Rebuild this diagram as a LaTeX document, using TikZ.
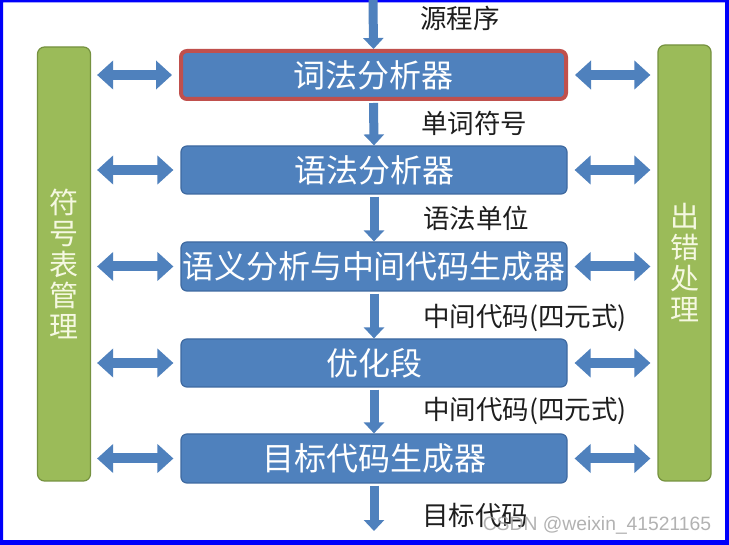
\documentclass[tikz,border=0pt]{standalone}
\usepackage{fontspec}
\setmainfont{Noto Sans CJK SC}
\newfontfamily\wmfont{Liberation Sans}
\usetikzlibrary{arrows.meta}
\definecolor{boxblue}{RGB}{79,129,189}
\definecolor{boxedge}{RGB}{62,105,160}
\definecolor{bargreen}{RGB}{155,187,89}
\definecolor{baredge}{RGB}{118,146,64}
\definecolor{redge}{RGB}{192,80,77}
\definecolor{frameblue}{RGB}{0,0,250}
\definecolor{labelink}{RGB}{30,30,30}
\definecolor{bartext}{RGB}{245,248,225}
\begin{document}
\begin{tikzpicture}[x=1pt,y=-1pt,
  stage/.style={draw=boxedge, line width=1.2pt, fill=boxblue, rounded corners=6pt,
    minimum width=386pt, minimum height=48pt, inner sep=0pt, text=white,
    font=\fontsize{32}{32}\selectfont},
  firststage/.style={stage, draw=redge, line width=4pt, minimum width=385pt, minimum height=48pt},
  sidebar/.style={draw=baredge, line width=1.2pt, fill=bargreen, rounded corners=7pt,
    minimum width=53pt, minimum height=434pt, inner sep=0pt, text=bartext, align=center,
    font=\fontsize{29}{31}\selectfont},
  flowlabel/.style={text=labelink, inner sep=0pt, font=\fontsize{26.5}{26.5}\selectfont},
  vflow/.style={draw=boxblue, line width=9pt, -{Triangle[width=20pt,length=11pt]}},
  hflow/.style={draw=boxblue, line width=10pt,
    {Triangle[width=28pt,length=16pt]}-{Triangle[width=28pt,length=16pt]}},
  watermark/.style={text=gray!75, opacity=0.8, inner sep=0pt, font=\wmfont\fontsize{19.3}{20}\selectfont}
]
\useasboundingbox (0,0) rectangle (729,545);
\fill[white] (0,0) rectangle (729,545);
\fill[frameblue, even odd rule] (0,0) rectangle (729,545) (3,2.5) rectangle (725,540);

% side bars
\node[sidebar] (lbar) at (64,264) {符\\号\\表\\管\\理};
\node[sidebar, minimum height=436pt] (rbar) at (684.5,263) {出\\错\\处\\理};

% stages
\node[firststage] (b1) at (373.5,75) {词法分析器};
\node[stage] (b2) at (374,170) {语法分析器};
\node[stage, minimum height=49pt] (b3) at (374,266.5) {语义分析与中间代码生成器};
\node[stage] (b4) at (374,363) {优化段};
\node[stage, minimum height=49pt] (b5) at (374,458.5) {目标代码生成器};

% flow arrows
\coordinate (src) at (373,0);
\coordinate (out) at (374,531);
\draw[vflow] (src) -- (b1.north);
\draw[vflow, shorten <=2pt] (b1.south) -- (b2.north);
\draw[vflow, shorten <=2pt] (b2.south) -- (b3.north);
\draw[vflow, shorten <=2pt] (b3.south) -- (b4.north);
\draw[vflow, shorten <=2pt] (b4.south) -- (b5.north);
\draw[vflow, shorten <=2pt] (b5.south) -- (out);

% flow labels
\node[flowlabel] (l0) at (460,18) {源程序};
\node[flowlabel] (l1) at (474,123) {单词符号};
\node[flowlabel] (l2) at (476,218) {语法单位};
\node[flowlabel] (l3) at (525,318) {中间代码(四元式)};
\node[flowlabel] (l4) at (525,411) {中间代码(四元式)};
\node[flowlabel] (l5) at (475,515) {目标代码};

% side arrows
\foreach \b in {b1,b2,b3,b4,b5}{
  \draw[hflow, shorten <=6pt, shorten >=7pt] (lbar.east |- \b) -- (\b.west);
  \draw[hflow, shorten <=7pt, shorten >=7pt] (\b.east) -- (rbar.west |- \b);
}

\node[watermark] (wm) at (597,525) {CSDN @weixin\_41521165};
\end{tikzpicture}
\end{document}
